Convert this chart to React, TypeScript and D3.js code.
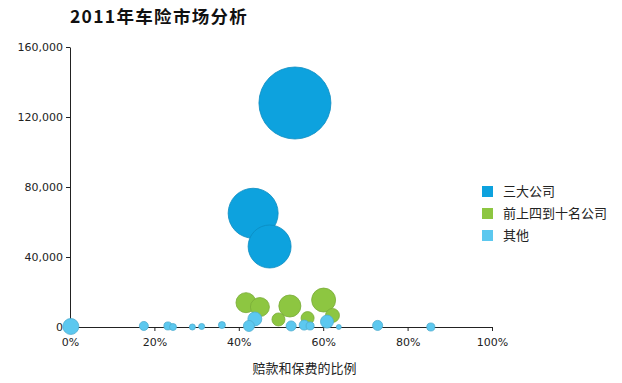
import React, { useEffect, useRef } from "react";
import * as d3 from "d3";

const title = "2011年车险市场分析";
const xTitle = "赔款和保费的比例";
const seriesNames = ["三大公司", "前上四到十名公司", "其他"];
const seriesColors = ["#0DA2DE", "#8DC641", "#5CC8EF"];

// x: ratio (%), y: premium, z: bubble size
const bigX = [53.3, 43.4, 47.3];
const bigY = [128000, 65000, 46000];
const bigZ = [128000, 61700, 45600];

const midX = [41.7, 45.0, 52.1, 49.4, 56.3, 60.1, 62.2];
const midY = [13900, 11400, 12000, 4300, 5100, 15400, 6600];
const midZ = [9900, 8900, 12000, 4200, 4200, 14200, 4800];

const otherX = [0.2, 17.5, 23.2, 24.4, 29.0, 31.2, 36.0, 43.8, 42.4, 52.4, 55.5, 56.9, 60.9, 63.7, 72.9, 85.5];
const otherY = [300, 600, 600, 0, 0, 300, 1100, 4600, 600, 600, 1100, 600, 3100, 0, 900, 0];
const otherZ = [6300, 2000, 1600, 1200, 900, 900, 1200, 4800, 3000, 2500, 2500, 1600, 4200, 600, 2500, 1600];

const xTicks = [0, 20, 40, 60, 80, 100];
const yTicks = [0, 40000, 80000, 120000, 160000];

export default function App() {
  const ref = useRef<SVGSVGElement | null>(null);

  useEffect(() => {
    const svg = d3.select(ref.current);
    svg.selectAll("*").remove();

    const x = d3.scaleLinear().domain([0, 100]).range([70, 492]);
    const y = d3.scaleLinear().domain([0, 160000]).range([327, 47]);
    const r = d3.scaleSqrt().domain([0, 128000]).range([0, 36]);

    const font = "'DejaVu Sans', 'Noto Sans CJK SC', sans-serif";
    const cjk = "'Noto Sans CJK SC', sans-serif";

    svg
      .append("text")
      .attr("x", 70)
      .attr("y", 23)
      .attr("font-family", cjk)
      .attr("font-weight", "bold")
      .attr("font-size", 17.5)
      .attr("letter-spacing", 1.3)
      .attr("fill", "#111")
      .text(title);

    const series = [
      { xs: bigX, ys: bigY, zs: bigZ },
      { xs: midX, ys: midY, zs: midZ },
      { xs: otherX, ys: otherY, zs: otherZ },
    ];

    const gB = svg.append("g");
    series.forEach((s, si) => {
      const data = s.xs.map((v, i) => ({ x: v, y: s.ys[i], z: s.zs[i] }));
      const col = seriesColors[si];
      gB.selectAll(null)
        .data(data)
        .enter()
        .append("circle")
        .attr("cx", (d) => x(d.x))
        .attr("cy", (d) => y(d.y))
        .attr("r", (d) => r(d.z))
        .attr("fill", col)
        .attr("stroke", d3.color(col)!.darker(0.4).toString())
        .attr("stroke-width", 0.8);
    });

    const xAxis = d3
      .axisBottom(x)
      .tickValues(xTicks)
      .tickSize(4)
      .tickSizeOuter(0)
      .tickFormat((d) => `${d}%`);
    const gx = svg.append("g").attr("transform", "translate(0,327)").call(xAxis);
    gx.selectAll("text").attr("font-family", font).attr("font-size", 11).attr("fill", "#222").attr("dy", "1.05em");
    gx.selectAll("line,path").attr("stroke", "#222");

    const yAxis = d3
      .axisLeft(y)
      .tickValues(yTicks)
      .tickSize(4)
      .tickSizeOuter(0)
      .tickFormat((d) => d3.format(",")(d as number));
    const gy = svg.append("g").attr("transform", "translate(70,0)").call(yAxis);
    gy.selectAll("text").attr("font-family", font).attr("font-size", 11).attr("fill", "#222");
    gy.selectAll("line,path").attr("stroke", "#222");

    gB.raise();

    svg
      .append("text")
      .attr("x", 304.5)
      .attr("y", 373)
      .attr("text-anchor", "middle")
      .attr("font-family", cjk)
      .attr("font-size", 13)
      .attr("fill", "#222")
      .text(xTitle);

    const leg = svg.append("g");
    seriesNames.forEach((name, i) => {
      const yy = 186 + i * 22;
      leg
        .append("rect")
        .attr("x", 482)
        .attr("y", yy)
        .attr("width", 11)
        .attr("height", 11)
        .attr("fill", seriesColors[i]);
      leg
        .append("text")
        .attr("x", 503)
        .attr("y", yy + 5.5)
        .attr("dy", "0.35em")
        .attr("font-family", cjk)
        .attr("font-size", 13)
        .attr("fill", "#222")
        .text(name);
    });
  }, []);

  return (
    <svg
      ref={ref}
      width={622}
      height={383}
      style={{ position: "absolute", left: 0, top: 0, background: "#fff" }}
    />
  );
}
